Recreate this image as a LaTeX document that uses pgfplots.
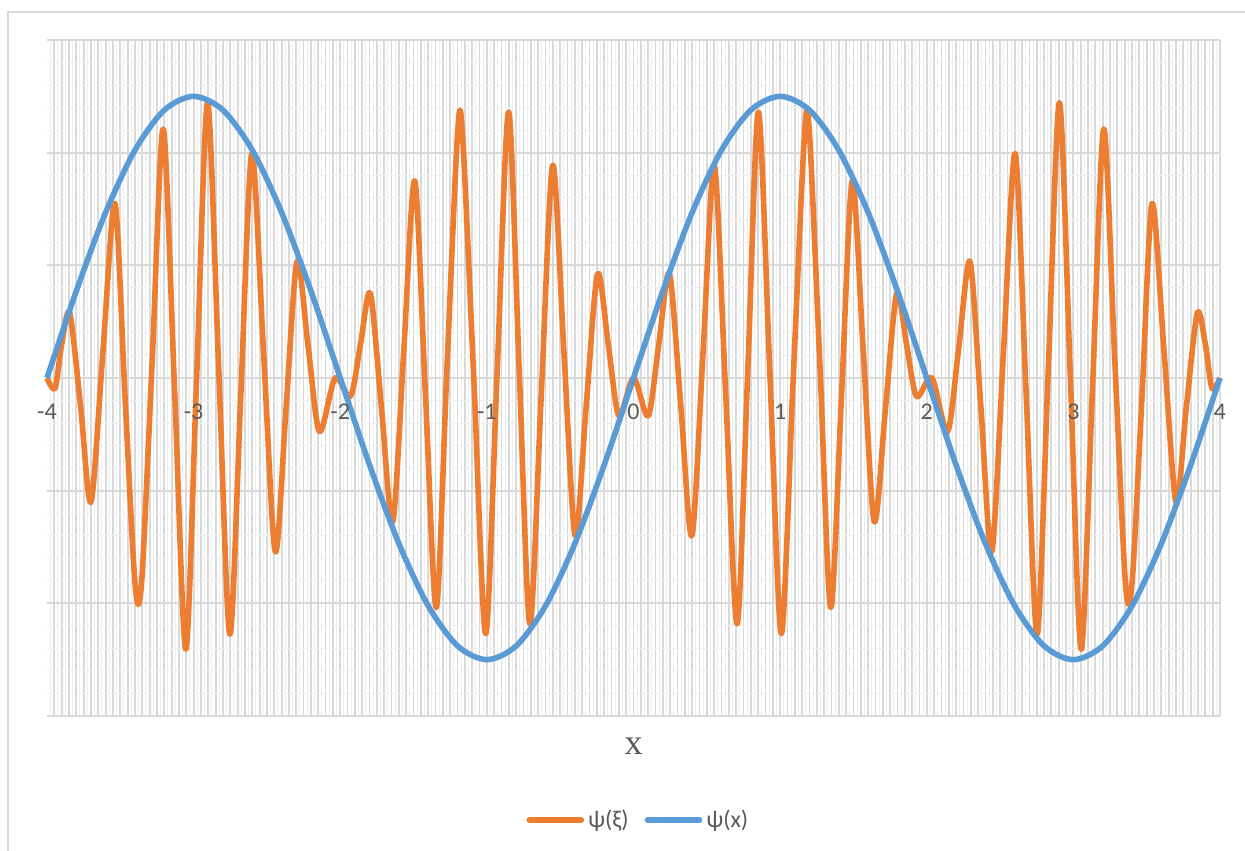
\documentclass[border=0pt]{standalone}
\usepackage{fontspec}
\setmainfont{Carlito}
\newfontfamily\serif{Liberation Serif}
\usepackage{pgfplots}
\pgfplotsset{compat=1.18}
\definecolor{psiorange}{HTML}{ED7D31}
\definecolor{psiblue}{HTML}{5B9BD5}
\definecolor{gridmaj}{HTML}{D9D9D9}
\definecolor{gridmin}{HTML}{EFEFEF}
\definecolor{labelgray}{HTML}{595959}
\tikzset{ticklab/.style={font=\fontsize{12}{12}\selectfont, text=labelgray, yshift=-17pt}}

\begin{document}
\begin{tikzpicture}
\useasboundingbox (0,0) rectangle (622.5pt,425pt);
% chart border
\draw[gridmaj, line width=0.6pt] (4pt,-5pt) -- (4pt,419pt) -- (630pt,419pt);
\begin{axis}[
  at={(23.5pt,67pt)}, anchor=south west,
  scale only axis, width=586.5pt, height=338pt,
  xmin=-4, xmax=4, ymin=-1.2, ymax=1.2,
  clip=false,
  axis x line*=middle, axis y line*=left,
  x axis line style={draw=gridmaj, line width=1pt, -},
  y axis line style={draw=none},
  xtick distance=0.05, xticklabels={}, minor x tick num=1,
  ytick distance=0.4, yticklabels={}, minor y tick num=4,
  tick style={draw=none},
  grid=both,
  major grid style={draw=gridmaj, line width=0.9pt},
  minor grid style={draw=gridmin, line width=0.5pt},
  xlabel={x},
  xlabel style={at={(axis description cs:0.5,0)}, anchor=center, yshift=-15pt,
    font=\serif\fontsize{18}{18}\selectfont, text=labelgray},
  legend columns=2,
  legend style={at={(0.505,-0.154)}, anchor=center, draw=none, fill=none,
    font=\fontsize{12}{14}\selectfont, text=labelgray,
    /tikz/every even column/.append style={column sep=6pt}},
  legend image code/.code={\draw[#1, line cap=round, line width=2.8pt] (0pt,0pt) -- (26pt,0pt);},
]
\addplot[psiorange, line width=2.8pt, smooth, line join=round] coordinates {
(-4.0,0) (-3.945,-0.036) (-3.90,0.12) (-3.845,0.23) (-3.77,-0.105) (-3.70,-0.44)
(-3.619,0.09) (-3.537,0.62) (-3.469,-0.054) (-3.40,-0.727) (-3.355,-0.727)
(-3.281,0.079) (-3.207,0.884) (-3.13,-0.04) (-3.053,-0.963) (-2.979,0.007)
(-2.905,0.977) (-2.829,0.034) (-2.753,-0.91) (-2.678,-0.057) (-2.603,0.797)
(-2.523,0.09) (-2.443,-0.617) (-2.369,-0.102) (-2.295,0.413) (-2.219,0.112)
(-2.142,-0.19) (-2.035,0) (-1.93,-0.065) (-1.862,0.12) (-1.795,0.30)
(-1.719,-0.105) (-1.642,-0.51) (-1.567,0.095) (-1.492,0.70) (-1.419,-0.058)
(-1.345,-0.815) (-1.273,0.027) (-1.2,0.868) (-1.165,0.855) (-1.087,-0.027)
(-1.008,-0.908) (-0.93,0.018) (-0.852,0.944) (-0.78,0.036) (-0.707,-0.873)
(-0.629,-0.059) (-0.551,0.755) (-0.475,0.098) (-0.398,-0.56) (-0.322,-0.095)
(-0.245,0.37) (-0.172,0.118) (-0.10,-0.134)
(0,0)
(0.10,-0.134) (0.172,0.118) (0.245,0.37) (0.322,-0.095) (0.398,-0.56)
(0.475,0.098) (0.551,0.755) (0.629,-0.059) (0.707,-0.873) (0.78,0.036)
(0.852,0.944) (0.93,0.018) (1.008,-0.908) (1.087,-0.027) (1.165,0.855)
(1.2,0.868) (1.273,0.027) (1.345,-0.815) (1.419,-0.058) (1.492,0.70)
(1.567,0.095) (1.642,-0.51) (1.719,-0.105) (1.795,0.30) (1.862,0.12)
(1.93,-0.065) (2.035,0) (2.142,-0.19) (2.219,0.112) (2.295,0.413)
(2.369,-0.102) (2.443,-0.617) (2.523,0.09) (2.603,0.797) (2.678,-0.057)
(2.753,-0.91) (2.829,0.034) (2.905,0.977) (2.979,0.007) (3.053,-0.963)
(3.13,-0.04) (3.207,0.884) (3.281,0.079) (3.355,-0.727) (3.40,-0.727)
(3.469,-0.054) (3.537,0.62) (3.619,0.09) (3.70,-0.44) (3.77,-0.105)
(3.845,0.23) (3.90,0.12) (3.945,-0.036) (4.0,0)
};
\addlegendentry{ψ(ξ)}
\addplot[psiblue, line width=2.8pt, smooth] coordinates {
(-4.0,0) (-3.8,0.309) (-3.6,0.5878) (-3.4,0.809) (-3.2,0.9511) (-3.0,1)
(-2.8,0.9511) (-2.6,0.809) (-2.4,0.5878) (-2.2,0.309) (-2.0,0)
(-1.8,-0.309) (-1.6,-0.5878) (-1.4,-0.809) (-1.2,-0.9511) (-1.0,-1)
(-0.8,-0.9511) (-0.6,-0.809) (-0.4,-0.5878) (-0.2,-0.309) (0,0)
(0.2,0.309) (0.4,0.5878) (0.6,0.809) (0.8,0.9511) (1.0,1)
(1.2,0.9511) (1.4,0.809) (1.6,0.5878) (1.8,0.309) (2.0,0)
(2.2,-0.309) (2.4,-0.5878) (2.6,-0.809) (2.8,-0.9511) (3.0,-1)
(3.2,-0.9511) (3.4,-0.809) (3.6,-0.5878) (3.8,-0.309) (4.0,0)
};
\addlegendentry{ψ(x)}
% tick labels on top of the curves
\node[ticklab] at (axis cs:-4,0) {-4};
\node[ticklab] at (axis cs:-3,0) {-3};
\node[ticklab] at (axis cs:-2,0) {-2};
\node[ticklab] at (axis cs:-1,0) {-1};
\node[ticklab] at (axis cs:0,0) {0};
\node[ticklab] at (axis cs:1,0) {1};
\node[ticklab] at (axis cs:2,0) {2};
\node[ticklab] at (axis cs:3,0) {3};
\node[ticklab] at (axis cs:4,0) {4};
\end{axis}
\end{tikzpicture}
\end{document}
